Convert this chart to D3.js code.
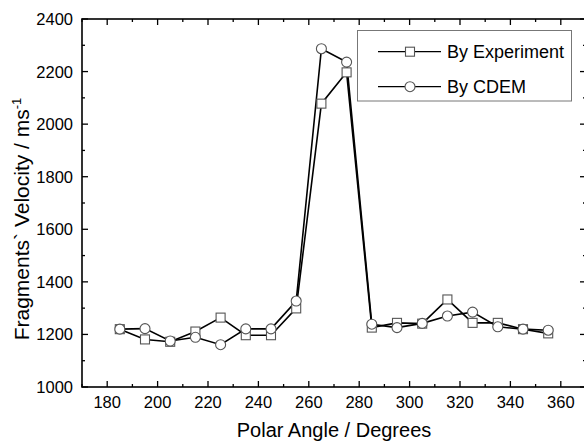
<!DOCTYPE html>
<html>
<head>
<meta charset="utf-8">
<script src="https://cdn.jsdelivr.net/npm/d3@7"></script>
<style>
body{margin:0;background:#fff;}
svg{display:block;font-family:"Liberation Sans",Arial,sans-serif;}
</style>
</head>
<body>
<div id="container"></div>
<script>
// polar angle (deg)
var angles = [185,195,205,215,225,235,245,255,265,275,285,295,305,315,325,335,345,355];
var experiment = [1220,1181,1172,1211,1264,1197,1197,1299,2078,2197,1226,1244,1241,1333,1244,1244,1220,1204];
var cdem = [1220,1222,1175,1189,1161,1221,1221,1327,2287,2236,1239,1226,1242,1270,1285,1229,1220,1216];
var xTicks = [180,200,220,240,260,280,300,320,340,360];
var yTicks = [1000,1200,1400,1600,1800,2000,2200,2400];
var seriesNames = ['By Experiment','By CDEM'];

var width = 584, height = 445;
var plotL = 82, plotT = 19, plotR = 586, plotB = 387;

var svg = d3.select('#container').append('svg')
    .attr('width', width).attr('height', height);

var x = d3.scaleLinear().domain([170,370]).range([plotL,plotR]);
var y = d3.scaleLinear().domain([1000,2400]).range([plotB,plotT]);

var minorX = d3.range(170,371,10), minorY = d3.range(1000,2401,100);

// frame
svg.append('rect').attr('x',plotL).attr('y',plotT)
    .attr('width',plotR-plotL).attr('height',plotB-plotT)
    .attr('fill','none').attr('stroke','#000').attr('stroke-width',1.6);

// ticks, inward on all four sides
function tick(x1,y1,x2,y2){
    svg.append('line').attr('x1',x1).attr('y1',y1).attr('x2',x2).attr('y2',y2)
        .attr('stroke','#000').attr('stroke-width',1.3);
}
minorX.forEach(function(v){
    var len = (v % 20 == 0) ? 6 : 3;
    tick(x(v),plotB,x(v),plotB-len);
    tick(x(v),plotT,x(v),plotT+len);
});
minorY.forEach(function(v){
    var len = (v % 200 == 0) ? 6 : 3;
    tick(plotL,y(v),plotL+len,y(v));
    tick(plotR,y(v),plotR-len,y(v));
});

svg.selectAll('.xl').data(xTicks).enter().append('text')
    .attr('x',function(d){return x(d);}).attr('y',plotB+21)
    .attr('text-anchor','middle').attr('font-size',16.5).text(function(d){return d;});
svg.selectAll('.yl').data(yTicks).enter().append('text')
    .attr('x',plotL-9).attr('y',function(d){return y(d)+6;})
    .attr('text-anchor','end').attr('font-size',16.5).text(function(d){return d;});

svg.append('text').attr('x',(plotL+plotR)/2).attr('y',437)
    .attr('text-anchor','middle').attr('font-size',20).text('Polar Angle / Degrees');
var yl = svg.append('text').attr('transform','translate(29,219) rotate(-90)')
    .attr('text-anchor','middle').attr('font-size',21);
yl.append('tspan').text('Fragments` Velocity / ms');
yl.append('tspan').attr('dy',-8).attr('font-size',13).text('-1');

// series
var line = d3.line().x(function(d){return x(d[0]);}).y(function(d){return y(d[1]);});
var expData = d3.zip(angles, experiment), cdemData = d3.zip(angles, cdem);
[expData, cdemData].forEach(function(data){
    svg.append('path').datum(data).attr('d',line)
        .attr('fill','none').attr('stroke','#000').attr('stroke-width',1.6);
});
function square(g, cx, cy){
    g.append('rect').attr('x',cx-4.5).attr('y',cy-4.5).attr('width',9).attr('height',9)
        .attr('fill','#fff').attr('stroke','#555').attr('stroke-width',1.1);
}
function circle(g, cx, cy){
    g.append('circle').attr('cx',cx).attr('cy',cy).attr('r',5)
        .attr('fill','#fff').attr('stroke','#555').attr('stroke-width',1.1);
}
expData.forEach(function(d){ square(svg, x(d[0]), y(d[1])); });
cdemData.forEach(function(d){ circle(svg, x(d[0]), y(d[1])); });

// legend
svg.append('rect').attr('x',357.5).attr('y',30.5).attr('width',214).attr('height',70.5)
    .attr('fill','#fff').attr('stroke','#777').attr('stroke-width',1);
[51.7, 86.7].forEach(function(ly, i){
    svg.append('line').attr('x1',378).attr('x2',441).attr('y1',ly).attr('y2',ly)
        .attr('stroke','#000').attr('stroke-width',1.3);
    if(i == 0) square(svg, 410, ly); else circle(svg, 410, ly);
    svg.append('text').attr('x',447).attr('y',ly+6.5).attr('font-size',18).text(seriesNames[i]);
});
</script>
</body>
</html>
